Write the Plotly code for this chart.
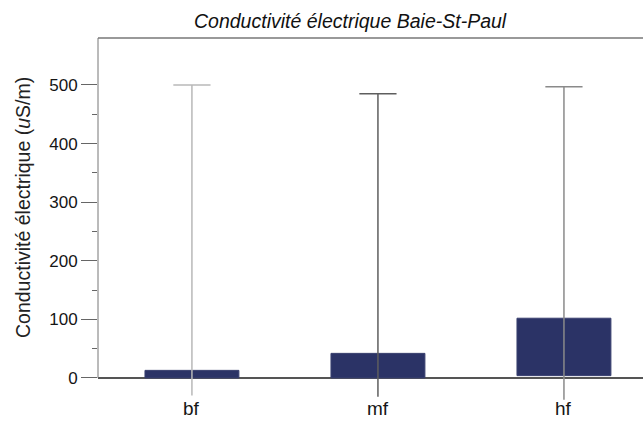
import plotly.graph_objects as go

# Conductivity summary per flow class (uS/m)
categories = ["bf", "mf", "hf"]
q1 = [0, 0, 4]
q3 = [13, 42, 102]
lower_whisker = [-30, -32, -37]
upper_whisker = [500, 485, 497]
whisker_colors = ["#b8b8b8", "#5e5e5e", "#8a8a8a"]

xpos = list(range(len(categories)))
cap_half = 0.1
box_color = "#2b3366"

fig = go.Figure()

# Interquartile boxes
fig.add_trace(go.Bar(
    x=xpos,
    y=[b - a for a, b in zip(q1, q3)],
    base=q1,
    width=0.505,
    marker=dict(color=box_color, line=dict(color="#3a4170", width=1)),
    hoverinfo="skip",
    showlegend=False,
))

# Whiskers with top caps
for i, x in enumerate(xpos):
    fig.add_trace(go.Scatter(
        x=[x, x, None, x - cap_half, x + cap_half],
        y=[lower_whisker[i], upper_whisker[i], None, upper_whisker[i], upper_whisker[i]],
        mode="lines",
        line=dict(color=whisker_colors[i], width=1.5),
        hoverinfo="skip",
        showlegend=False,
    ))

# Category labels under the frame
category_labels = [
    dict(text=c, xref="x", yref="paper", x=x, y=-0.0495, showarrow=False,
         xanchor="center", yanchor="bottom", borderpad=0,
         font=dict(size=19, color="#151515"))
    for c, x in zip(categories, xpos)
]

fig.update_layout(
    width=643,
    height=422,
    margin=dict(l=98, r=0, t=38, b=20),
    paper_bgcolor="white",
    plot_bgcolor="white",
    font=dict(family="Liberation Sans, Arial, sans-serif", color="#111111"),
    xaxis=dict(
        range=[-0.505, 2.425],
        showticklabels=False,
        showgrid=False,
        zeroline=False,
        showline=False,
        ticks="",
        automargin=False,
    ),
    yaxis=dict(
        range=[-41, 580.2],
        tickvals=[0, 100, 200, 300, 400, 500],
        showgrid=False,
        zeroline=True,
        zerolinecolor="#555555",
        zerolinewidth=1.5,
        showline=False,
        ticks="outside",
        ticklen=16,
        tickcolor="#666666",
        tickwidth=1,
        automargin=False,
        tickfont=dict(size=17, color="#151515"),
        minor=dict(tickvals=[50, 150, 250, 350, 450], ticks="outside", ticklen=5, tickcolor="#666666"),
    ),
    shapes=[
        # left axis line from 0 to the top of the frame
        dict(type="line", xref="paper", yref="y", x0=0, x1=0, y0=0, y1=580.2,
             line=dict(color="#777777", width=1)),
        # top frame line
        dict(type="line", xref="paper", yref="paper", x0=0, x1=1, y0=1, y1=1,
             line=dict(color="#777777", width=1.5)),
    ],
    annotations=[
        dict(text="<i>Conductivité électrique Baie-St-Paul</i>", xref="paper", yref="paper",
             x=(350 - 98) / 545, y=1, yshift=17, showarrow=False, xanchor="center", yanchor="middle",
             font=dict(size=19.5, color="#111111")),
        dict(text="Conductivité électrique (<i>u</i>S/m)", xref="paper", yref="paper",
             x=0, xshift=-75, y=(402 - 208) / 364, showarrow=False, textangle=-90,
             xanchor="center", yanchor="middle", font=dict(size=19.5, color="#222222")),
    ] + category_labels,
)

fig.write_html("out.html")
